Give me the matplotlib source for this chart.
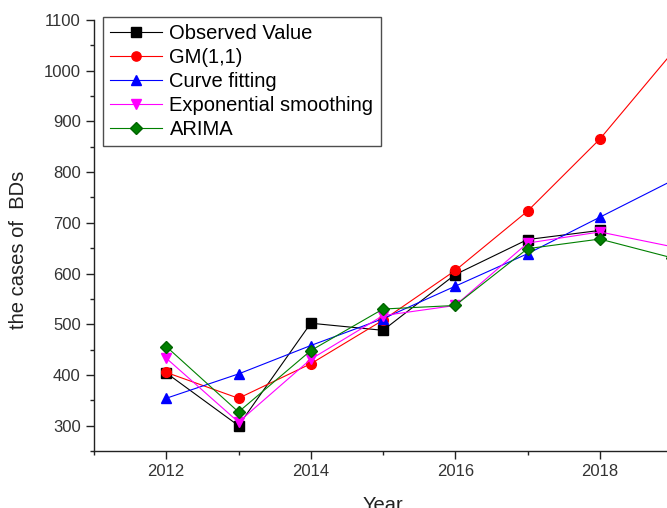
import numpy as np
import matplotlib
matplotlib.use('Agg')
import matplotlib.pyplot as plt
from matplotlib.ticker import MultipleLocator

plt.rcParams['font.family'] = ['Liberation Sans', 'DejaVu Sans']

# === Data ===
years_obs = [2012, 2013, 2014, 2015, 2016, 2017, 2018]
observed = [404, 300, 502, 488, 598, 667, 685]

years_fc = [2012, 2013, 2014, 2015, 2016, 2017, 2018, 2019]
gm11 = [405, 354, 422, 508, 606, 723, 865, 1035]
curve_fit = [354, 402, 458, 511, 575, 639, 711, 783]
exp_smooth = [433, 307, 431, 517, 537, 660, 682, 653]
arima = [456, 327, 448, 530, 537, 649, 668, 631]

series = [
    ('Observed Value', years_obs, observed, 'black', 's'),
    ('GM(1,1)', years_fc, gm11, 'red', 'o'),
    ('Curve fitting', years_fc, curve_fit, 'blue', '^'),
    ('Exponential smoothing', years_fc, exp_smooth, 'magenta', 'v'),
    ('ARIMA', years_fc, arima, 'green', 'D'),
]

# === Plot ===
fig = plt.figure(figsize=(6.67, 5.08), dpi=100)
ax = fig.add_axes([94 / 667, 57 / 508, 578 / 667, 431 / 508])

for label, xs, ys, col, mk in series:
    edge = 'darkgreen' if col == 'green' else col
    ax.plot(xs, ys, color=col, marker=mk, markersize=7 if mk != 'D' else 6,
            markeredgecolor=edge, linewidth=0.8, label=label, clip_on=False)

ax.set_xlim(2011, 2019)
ax.set_ylim(250, 1100)
ax.xaxis.set_major_locator(MultipleLocator(2))
ax.xaxis.set_minor_locator(MultipleLocator(1))
ax.yaxis.set_major_locator(MultipleLocator(100))
ax.yaxis.set_minor_locator(MultipleLocator(50))
ax.set_yticks([300, 400, 500, 600, 700, 800, 900, 1000, 1100])

ax.spines['top'].set_visible(False)
ax.spines['right'].set_visible(False)
for s in ('left', 'bottom'):
    ax.spines[s].set_color('#222222')
    ax.spines[s].set_linewidth(1.0)
ax.tick_params(which='major', direction='out', length=6, width=1,
               labelsize=12, labelcolor='#333333', color='#222222')
ax.tick_params(which='minor', direction='out', length=3, width=1, color='#222222')

ax.set_xlabel('Year', fontsize=14.5, color='#222222', labelpad=12)
ax.set_ylabel('the cases of  BDs', fontsize=14.5, color='#222222')
ax.yaxis.set_label_coords(-0.114, 0.466)

leg = ax.legend(loc='upper left', bbox_to_anchor=(103 / 667, 1 - 17 / 508),
                bbox_transform=fig.transFigure, borderaxespad=0,
                fontsize=14.5, frameon=True,
                fancybox=False, handlelength=2.6, handletextpad=0.35,
                labelspacing=0.25, borderpad=0.35, markerscale=0.95)
leg.get_frame().set_edgecolor('#222222')
leg.get_frame().set_linewidth(1.0)

fig.savefig('out.png', dpi=100)
